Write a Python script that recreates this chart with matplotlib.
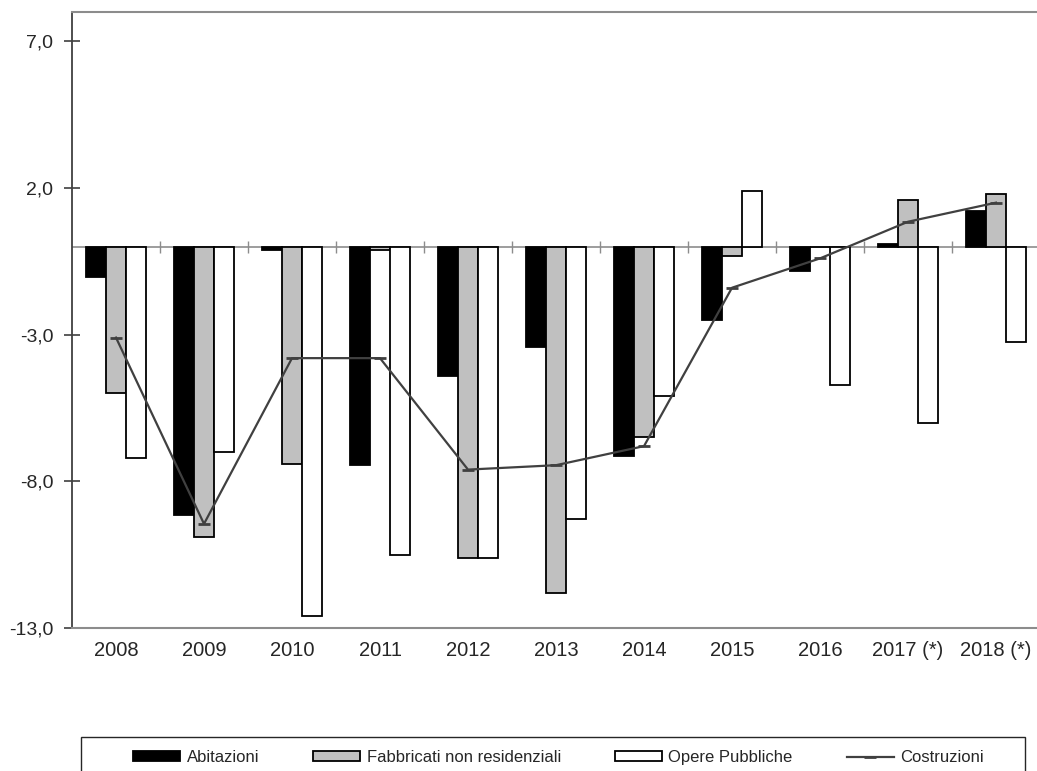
import numpy as np
import matplotlib
matplotlib.use('Agg')
import matplotlib.pyplot as plt
from matplotlib.patches import Rectangle

plt.rcParams['font.family'] = ['Liberation Sans', 'DejaVu Sans']

# valori (variazioni %)
anni = ['2008', '2009', '2010', '2011', '2012', '2013', '2014', '2015', '2016', '2017 (*)', '2018 (*)']
abitazioni = [-1.05, -9.15, -0.13, -7.43, -4.42, -3.42, -7.15, -2.51, -0.84, 0.10, 1.22]
fabbricati = [-5.0, -9.9, -7.4, -0.13, -10.6, -11.8, -6.5, -0.33, 0.0, 1.6, 1.8]
opere = [-7.2, -7.0, -12.6, -10.5, -10.6, -9.3, -5.1, 1.9, -4.7, -6.0, -3.25]
costruzioni = [-3.1, -9.45, -3.8, -3.8, -7.6, -7.45, -6.8, -1.4, -0.4, 0.85, 1.5]
yticks = [-13, -8, -3, 2, 7]

fig = plt.figure(figsize=(10.37, 7.71), dpi=100)
ax = fig.add_axes([72/1037, 1-628/771, 968/1037, 616/771])

x = np.arange(len(anni))
w = 0.227
b1 = ax.bar(x - w, abitazioni, w, color='black', edgecolor='black', linewidth=1.3, zorder=3, label='Abitazioni')
b2 = ax.bar(x, fabbricati, w, color='#c0c0c0', edgecolor='black', linewidth=1.3, zorder=3, label='Fabbricati non residenziali')
b3 = ax.bar(x + w, opere, w, color='white', edgecolor='black', linewidth=1.3, zorder=3, label='Opere Pubbliche')
l1, = ax.plot(x, costruzioni, color='#404040', lw=1.6, marker='_', markersize=8.5, mew=2, zorder=4, label='Costruzioni')

# linea dello zero con tacche tra le categorie
ax.axhline(0, color='#8c8c8c', lw=1.2, zorder=2)
ax.plot(x[:-1] + 0.5, np.zeros(len(x) - 1), linestyle='none', marker='|', markersize=9,
        mew=1.0, color='#8c8c8c', zorder=2)

ax.set_xlim(-0.5, len(anni) - 0.5)
ax.set_ylim(-13, 8)
ax.set_yticks(yticks)
ax.set_yticklabels([f'{v:.1f}'.replace('.', ',') for v in yticks])
ax.set_xticks(x)
ax.set_xticklabels(anni)
ax.tick_params(axis='y', direction='inout', length=11, width=1.2, color='#404040',
               labelsize=14, labelcolor='#262626', pad=8)
ax.tick_params(axis='x', length=0, labelsize=14.5, labelcolor='#262626', pad=9)

ax.spines['right'].set_visible(False)
ax.spines['left'].set_color('#404040')
ax.spines['left'].set_linewidth(1.3)
ax.spines['top'].set_color('#8c8c8c')
ax.spines['top'].set_linewidth(1.5)
ax.spines['bottom'].set_color('#8c8c8c')
ax.spines['bottom'].set_linewidth(1.5)

# cornice della legenda
fig.patches.append(Rectangle((80.7/1037, -0.05), (1025-80.7)/1037, 0.05 + 1 - 736.7/771,
                             transform=fig.transFigure, fill=False, edgecolor='#262626', lw=1.0))
fig.legend(handles=[b1, b2, b3, l1], loc='center left', bbox_to_anchor=(125/1037, 1 - 757.7/771),
           ncol=4, frameon=False, fontsize=12, borderpad=0, handlelength=2.8, handleheight=0.55,
           handletextpad=0.4, columnspacing=3.25, labelcolor='#262626')

fig.savefig('out.png', dpi=100)
